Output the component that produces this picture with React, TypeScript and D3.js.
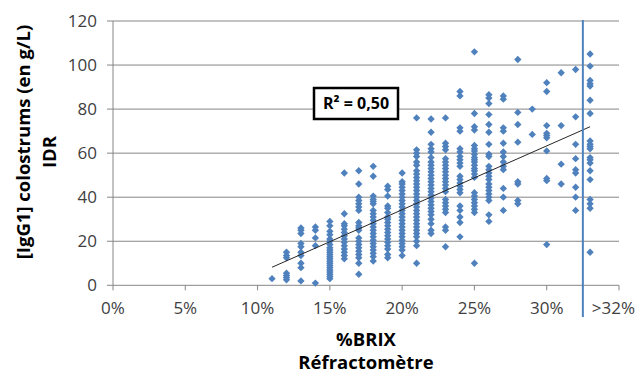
import React from 'react';
import * as d3 from 'd3';

// %BRIX reading (33 stands for the ">32%" group)
const brixValues = [11, 12, 13, 14, 15, 16, 17, 18, 19, 20, 21, 22, 23, 24, 25, 26, 27, 28, 29, 30, 31, 32, 33];

// IgG1 (g/L) measured by IDR, one list per brix value
const iggByBrix: number[][] = [
  [3],
  [15, 13.5, 12.5, 5.5, 4.5, 3.5, 2.5],
  [26, 25, 23.5, 19, 17.5, 15, 13.5, 10, 8, 2],
  [26.5, 25, 21.5, 18, 1],
  [29, 27, 24.5, 23, 21, 20, 18.5, 17, 16, 15, 14, 13, 12, 11, 10, 9, 8, 7, 6, 5, 4, 3],
  [51, 32.5, 28, 27, 25.5, 24, 22.5, 21, 19.5, 18, 16.5, 15, 13.5, 12],
  [52, 46, 40, 38.5, 37, 35.5, 34, 28.5, 27, 26, 25, 21.5, 20, 18.5, 17, 15.5, 14, 12.5, 10, 5],
  [54, 49.5, 40.5, 39, 38, 37, 34, 32.5, 31, 29.5, 28, 26.5, 25, 23.5, 22, 20.5, 19, 17.5, 16, 14.5, 13, 11],
  [45, 43.5, 40.5, 36, 35, 33, 31, 30, 28.5, 27, 25.5, 24, 22.5, 21, 19.5, 18, 16.5, 14, 12.5],
  [51, 47, 46, 44.5, 43, 41.5, 40, 38.5, 37, 35.5, 34, 32.5, 31, 29.5, 28, 26.5, 25, 23.5, 22, 20.5, 19, 17.5, 16, 13.5],
  [76, 61.5, 60, 58.5, 56, 54.5, 52, 50.5, 49, 47.5, 46, 44.5, 43, 41.5, 40, 38.5, 37, 35.5, 34, 32.5, 31, 29.5, 28, 26.5, 25, 23.5, 22, 20, 18, 10],
  [75.5, 69.5, 64, 62, 60.5, 58, 56, 54.5, 53, 51.5, 50, 48.5, 47, 45.5, 44, 42.5, 41, 39.5, 38, 36.5, 35, 33.5, 32, 30, 28, 25, 23.5],
  [76, 64.5, 63, 61.5, 57.5, 56, 54.5, 53, 51.5, 50, 48.5, 47, 45.5, 44, 42.5, 39, 37.5, 36, 34.5, 33, 26.5, 25, 17.5],
  [88, 86, 71.5, 70, 62, 60.5, 58.5, 57, 55.5, 54, 49.5, 48, 46.5, 45, 43.5, 42, 36, 34, 31, 28.5, 22],
  [106, 78, 72, 70.5, 63.5, 62, 61, 59.5, 58, 57, 56, 54.5, 53, 52, 50.5, 49, 42, 40.5, 39, 37.5, 36, 34.5, 33, 10],
  [86.5, 85, 82.5, 77.5, 73, 69.5, 64, 59.5, 58.5, 54, 52.5, 51, 49.5, 48, 46, 44.5, 43, 41.5, 40, 38.5, 32, 29],
  [86, 84.5, 71.5, 70, 64.5, 60.5, 58.5, 56, 54, 52.5, 44, 40, 34],
  [102.5, 78.5, 73, 65, 47, 46, 38.5, 37],
  [80, 68.5],
  [92, 88, 72.5, 69, 68, 67, 61, 48.5, 47.5, 18.5],
  [96.5, 72.5, 55, 46],
  [98, 76.5, 64, 57.5, 52.5, 51, 44.5, 40, 34],
  [105, 99.5, 93, 91.5, 90.5, 84, 78, 65.5, 64, 63, 62, 58, 57, 55.5, 52, 48, 39, 37, 35, 15],
];

const xTicks = [0, 5, 10, 15, 20, 25, 30, 35];
const xTickLabels = ['0%', '5%', '10%', '15%', '20%', '25%', '30%', '>32%'];
const yTicks = [0, 20, 40, 60, 80, 100, 120];

// linear trend (Excel)
const trendSlope = 2.9;
const trendIntercept = -23.7;
const rSquaredLabel = 'R² = 0,50';
const cutoffBrix = 32.5;

const W = 636;
const H = 376;
const font = '"Open Sans", sans-serif';
const blue = '#4F81BD';
const grid = '#868686';

export default function App() {
  const x = d3.scaleLinear().domain([0, 35]).range([113, 619]);
  const y = d3.scaleLinear().domain([0, 120]).range([285.3, 21]);

  const points = brixValues.flatMap((b, i) => iggByBrix[i].map(v => ({ b, v })));
  const diamond = d3.symbol(d3.symbolSquare, 27)()!;

  const x0 = d3.min(brixValues)!;
  const x1 = d3.max(brixValues)!;
  const trend = d3.line<number>()
    .x(d => x(d))
    .y(d => y(trendSlope * d + trendIntercept))([x0, x1])!;

  return (
    <div>
      <style>{'body{margin:0}'}</style>
      <svg width={W} height={H} style={{ display: 'block', background: '#fff' }}>
        {/* grid */}
        {yTicks.filter(t => t > 0).map(t => (
          <line key={t} x1={x(0)} x2={x(35)} y1={y(t)} y2={y(t)} stroke={grid} strokeWidth={1} />
        ))}
        {/* axes */}
        <line x1={x(0)} x2={x(0)} y1={y(120)} y2={y(0)} stroke={grid} />
        <line x1={x(0)} x2={x(35)} y1={y(0)} y2={y(0)} stroke={grid} />
        {yTicks.map(t => (
          <g key={t}>
            <line x1={x(0) - 6} x2={x(0)} y1={y(t)} y2={y(t)} stroke={grid} />
            <text x={97} y={y(t)} dy="0.36em" textAnchor="end" fontFamily={font} fontSize={17} fill="#404040">{t}</text>
          </g>
        ))}
        {xTicks.map((t, i) => (
          <g key={t}>
            <line x1={x(t)} x2={x(t)} y1={y(0)} y2={y(0) + 5} stroke={grid} />
            <text
              x={i === xTicks.length - 1 ? 635 : x(t)}
              y={314}
              textAnchor={i === xTicks.length - 1 ? 'end' : 'middle'}
              fontFamily={font} fontSize={17} fill="#404040">{xTickLabels[i]}</text>
          </g>
        ))}

        {/* points */}
        {points.map((p, i) => (
          <path key={i} d={diamond} transform={`translate(${x(p.b)},${y(p.v)}) rotate(45)`} fill={blue} />
        ))}

        {/* trend line */}
        <path d={trend} fill="none" stroke="#262626" strokeWidth={1} />

        {/* >32% cutoff */}
        <line x1={x(cutoffBrix)} x2={x(cutoffBrix)} y1={y(120) - 1} y2={317} stroke={blue} strokeWidth={2} />

        {/* R² label */}
        <rect x={314} y={88} width={84} height={31} fill="#fff" stroke="#000" strokeWidth={2.5} />
        <text x={356} y={109} textAnchor="middle" fontFamily={font} fontWeight="bold" fontSize={16} fill="#000">{rSquaredLabel}</text>

        {/* titles */}
        <text x={366} y={346} textAnchor="middle" fontFamily={font} fontWeight="bold" fontSize={18.5} fill="#000">%BRIX</text>
        <text x={366} y={369} textAnchor="middle" fontFamily={font} fontWeight="bold" fontSize={18.5} fill="#000">Réfractomètre</text>
        <text transform="translate(30,142) rotate(-90)" textAnchor="middle" fontFamily={font} fontWeight="bold" fontSize={18.5} fill="#000">[IgG1] colostrums (en g/L)</text>
        <text transform="translate(56,152) rotate(-90)" textAnchor="middle" fontFamily={font} fontWeight="bold" fontSize={18.5} fill="#000">IDR</text>
      </svg>
    </div>
  );
}
